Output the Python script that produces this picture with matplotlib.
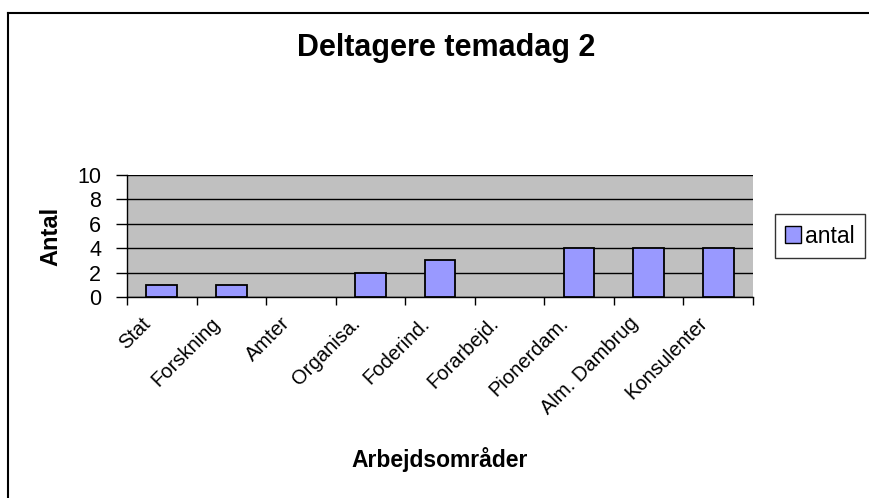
import matplotlib
matplotlib.use("Agg")
import matplotlib.pyplot as plt
import matplotlib.transforms as mtransforms
from matplotlib.lines import Line2D
from matplotlib.patches import Patch

categories = ["Stat", "Forskning", "Amter", "Organisa.", "Foderind.", "Forarbejd.",
              "Pionerdam.", "Alm. Dambrug", "Konsulenter"]
antal = [1, 1, 0, 2, 3, 0, 4, 4, 4]
yticks = [0, 2, 4, 6, 8, 10]

plt.rcParams['font.family'] = ['Liberation Sans', 'DejaVu Sans']

fig = plt.figure(figsize=(8.7, 4.98), dpi=100)
W, H = 870, 498
ax = fig.add_axes([127 / W, 1 - 297 / H, (753 - 127) / W, (297 - 175) / H])
ax.set_facecolor('#C0C0C0')

x = list(range(len(categories)))
bars = ax.bar(x, antal, width=0.44, color='#9999FF', edgecolor='black', linewidth=1.3, zorder=3)
for b, v in zip(bars, antal):
    if v == 0:
        b.set_visible(False)
ax.set_xlim(-0.5, len(categories) - 0.5)
ax.set_ylim(0, 10)
ax.set_yticks(yticks)
ax.yaxis.grid(True, color='black', linewidth=1, zorder=1)
ax.set_axisbelow(True)
for s in ['top', 'right']:
    ax.spines[s].set_visible(False)
for s in ['left', 'bottom']:
    ax.spines[s].set_linewidth(1)
ax.tick_params(axis='y', length=8, width=1, pad=10.5, labelsize=15.5)

ax.set_xticks(x)
ax.set_xticks([i - 0.5 for i in range(len(categories) + 1)], minor=True)
ax.tick_params(axis='x', which='major', length=0, pad=12, labelsize=14.5)
ax.tick_params(axis='x', which='minor', length=6, width=1, direction='out')
ax.set_xticklabels(categories, rotation=45, ha='right', va='top')
offset = mtransforms.ScaledTranslation(-5 / 72, 0, fig.dpi_scale_trans)
for lab in ax.get_xticklabels():
    lab.set_transform(lab.get_transform() + offset)

fig.text(446 / W, 1 - 48 / H, "Deltagere temadag 2", fontsize=22, fontweight='bold',
         ha='center', va='center')
fig.text(440 / W, 1 - 459 / H, "Arbejdsområder", fontsize=16.5, fontweight='bold',
         ha='center', va='center')
fig.text(51 / W, 1 - 236 / H, "Antal", fontsize=17, fontweight='bold',
         ha='center', va='center', rotation=90)

handles = [Patch(facecolor='#9999FF', edgecolor='black', linewidth=1)]
leg = fig.legend(handles, ["antal"], loc='center', bbox_to_anchor=(820 / W, 1 - 236 / H),
                 fontsize=16.5, frameon=True, fancybox=False, edgecolor='black',
                 handlelength=0.7, handleheight=0.7, handletextpad=0.15,
                 borderpad=0.45, borderaxespad=0)
leg.get_frame().set_linewidth(1)

fig.add_artist(Line2D([8 / W, 1.0], [1 - 13 / H, 1 - 13 / H], transform=fig.transFigure,
                      color='black', linewidth=1.5))
fig.add_artist(Line2D([8 / W, 8 / W], [0, 1 - 13 / H], transform=fig.transFigure,
                      color='black', linewidth=1.5))

fig.savefig("out.png", dpi=100, facecolor='white')
